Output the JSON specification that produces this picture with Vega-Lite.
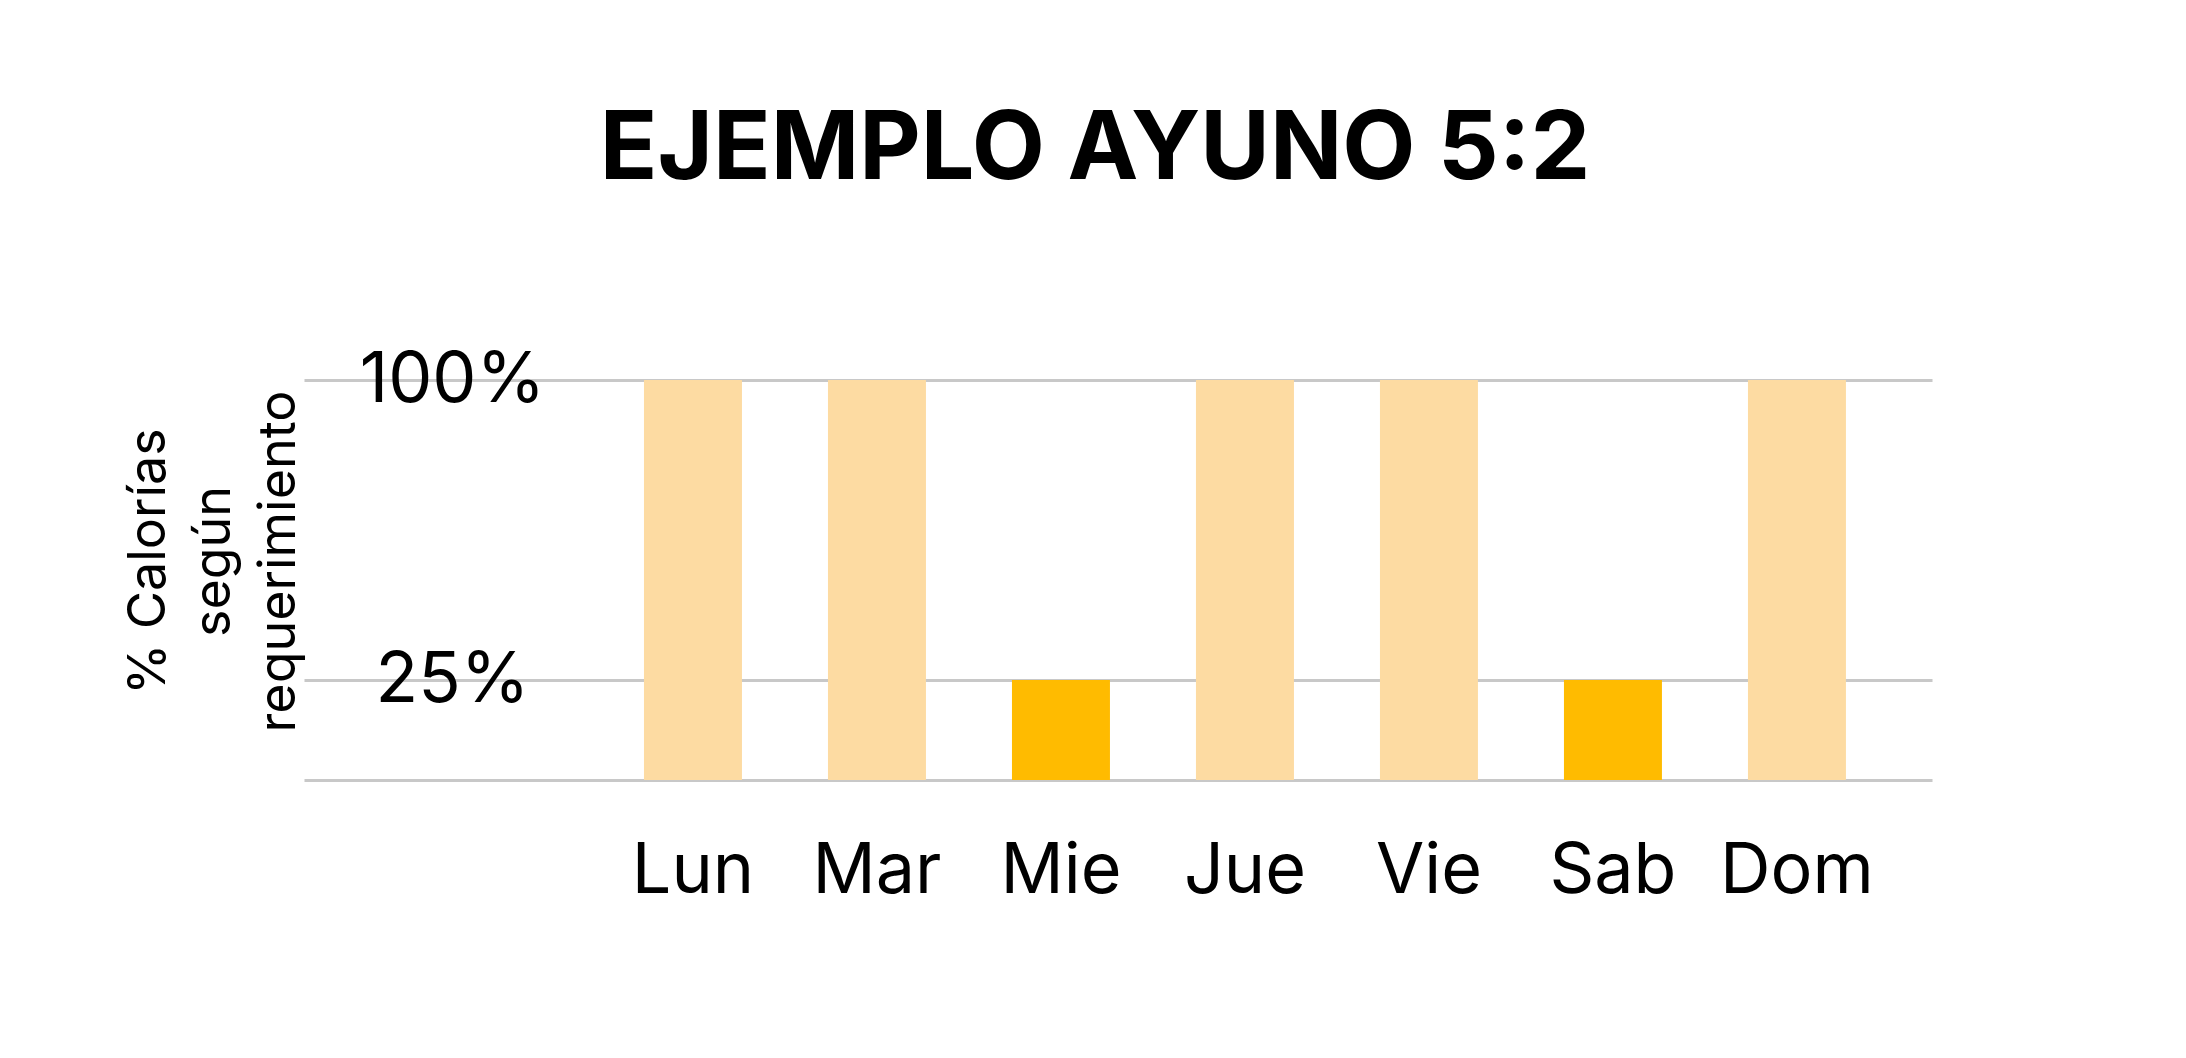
{
  "$schema": "https://vega.github.io/schema/vega-lite/v6.json",
  "width": 1386,
  "height": 400,
  "autosize": {"type": "none"},
  "padding": {"left": 546, "top": 380, "right": 254, "bottom": 278},
  "background": "white",
  "title": {
    "text": "EJEMPLO AYUNO 5:2",
    "font": "Inter",
    "fontSize": 95,
    "fontWeight": "bold",
    "color": "black",
    "anchor": "middle",
    "frame": "group",
    "baseline": "alphabetic",
    "dx": -144,
    "offset": 71
  },
  "data": {
    "values": [
      {"dia": "Lun", "pct": 100, "tipo": "Normal"},
      {"dia": "Mar", "pct": 100, "tipo": "Normal"},
      {"dia": "Mie", "pct": 25, "tipo": "Ayuno"},
      {"dia": "Jue", "pct": 100, "tipo": "Normal"},
      {"dia": "Vie", "pct": 100, "tipo": "Normal"},
      {"dia": "Sab", "pct": 25, "tipo": "Ayuno"},
      {"dia": "Dom", "pct": 100, "tipo": "Normal"}
    ]
  },
  "mark": {"type": "bar", "width": {"band": 0.628}},
  "encoding": {
    "x": {
      "field": "dia",
      "type": "nominal",
      "sort": null,
      "scale": {
        "range": [-242, 1386],
        "paddingInner": 0.152,
        "paddingOuter": 1,
        "align": 0.845
      },
      "axis": {
        "title": null,
        "labelAngle": 0,
        "labelFont": "Inter",
        "labelFontSize": 70,
        "labelColor": "black",
        "labelBaseline": "alphabetic",
        "labelPadding": 112,
        "ticks": false,
        "tickSize": 0,
        "domainColor": "#c8c8c8",
        "domainWidth": 3
      }
    },
    "y": {
      "field": "pct",
      "type": "quantitative",
      "scale": {"domain": [0, 100], "nice": false},
      "axis": {
        "values": [25, 100],
        "labelExpr": "datum.value + '%'",
        "labelFont": "Inter",
        "labelFontSize": 70,
        "labelColor": "black",
        "labelAlign": "center",
        "labelBaseline": "middle",
        "labelPadding": 94,
        "labelLimit": 400,
        "ticks": false,
        "tickSize": 0,
        "domain": false,
        "grid": true,
        "gridColor": "#c8c8c8",
        "gridWidth": 3,
        "title": ["% Calorías", "según", "requerimiento"],
        "titleFont": "Inter",
        "titleFontSize": 52,
        "titleFontWeight": "normal",
        "titleColor": "black",
        "titleLineHeight": 65,
        "titlePadding": 54,
        "titleY": 181
      }
    },
    "color": {
      "field": "tipo",
      "type": "nominal",
      "scale": {"domain": ["Normal", "Ayuno"], "range": ["#fddba2", "#ffbb00"]},
      "legend": null
    }
  },
  "config": {"view": {"stroke": null}}
}
